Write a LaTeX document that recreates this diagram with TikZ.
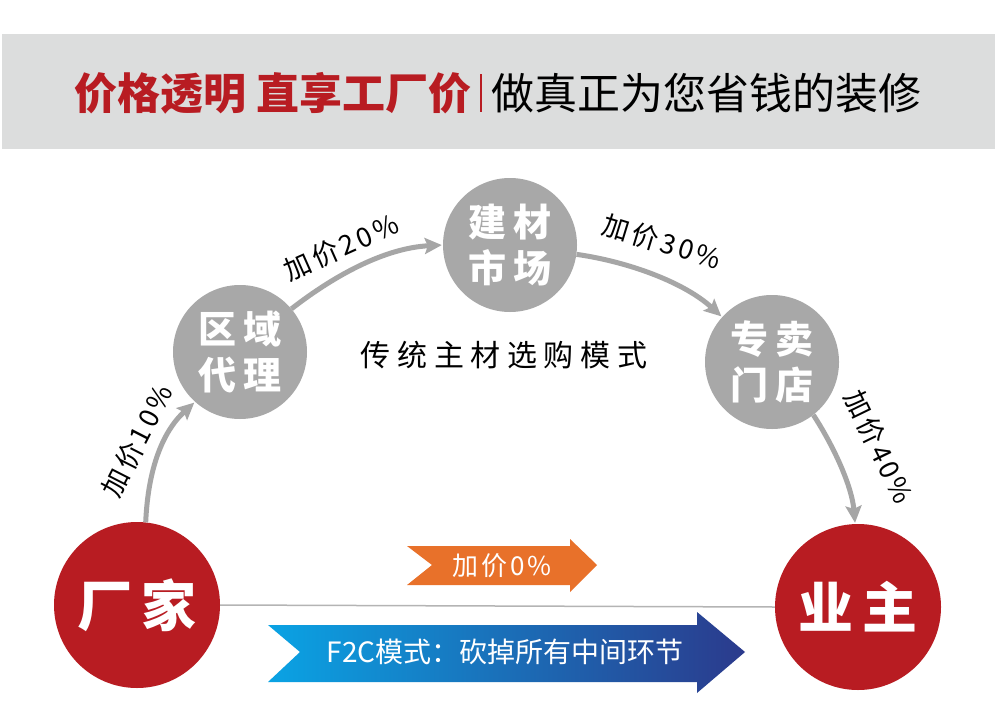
\documentclass[tikz,border=0pt]{standalone}
\usepackage{fontspec}
\setmainfont{Noto Sans CJK SC}
\newfontfamily\cjkwide[LetterSpace=22]{Noto Sans CJK SC}
\newfontfamily\cjklab[LetterSpace=12]{Noto Sans CJK SC}
\newfontfamily\cjkcirc[LetterSpace=18]{Noto Sans CJK SC}
\usetikzlibrary{arrows.meta}
\definecolor{bandgray}{HTML}{DCDDDD}
\definecolor{hred}{HTML}{B81C22}
\definecolor{cgray}{HTML}{A8A8A8}
\definecolor{agray}{HTML}{A6A6A6}
\definecolor{lgray}{HTML}{B4B4B4}
\definecolor{oarrow}{HTML}{E8712A}
\definecolor{bleft}{HTML}{0AA3E4}
\definecolor{bright}{HTML}{2B3A8C}
\begin{document}
\begin{tikzpicture}[x=1pt,y=-1pt,
  graycirc/.style={circle,fill=cgray,minimum size=134pt,inner sep=0pt,text=white,
    font=\cjkcirc\bfseries\fontsize{38}{46}\selectfont,align=center},
  redcirc/.style={circle,fill=hred,minimum size=166pt,inner sep=0pt,text=white,
    font=\cjkcirc\bfseries\fontsize{55}{60}\selectfont},
  flow/.style={draw=agray,line width=5pt,-{Stealth[length=17pt,width=16pt,inset=3pt]},shorten >=1pt},
  pct/.style={font=\cjklab\fontsize{27}{30}\selectfont,text=black,inner sep=0pt}]
\useasboundingbox (0,0) rectangle (1000,725);
\fill[white] (0,0) rectangle (1000,725);
\fill[bandgray] (2,34) rectangle (995,149);
% header
\node[anchor=east,text=hred,font=\bfseries\fontsize{43}{46}\selectfont,inner sep=0pt] (t1) at (472,93) {价格透明 直享工厂价};
\node[anchor=west,text=black,font=\fontsize{43}{46}\selectfont,inner sep=0pt] (t2) at (491,93) {做真正为您省钱的装修};
\coordinate (bart) at (481,74);
\coordinate (barb) at (481,112);
\draw[hred,line width=2pt] (bart) -- (barb);
% circles
\node[redcirc] (fac) at (137,605) {厂家};
\node[redcirc] (own) at (858,607) {业主};
\node[graycirc] (reg) at (240,352) {区域\\代理};
\node[graycirc] (mkt) at (510,245) {建材\\市场};
\node[graycirc] (sto) at (772,362) {专卖\\门店};
% baseline
\draw[lgray,line width=1.5pt] (fac.east) -- (own.west);
% flow arrows
\draw[flow] (fac.84) .. controls (148,470) and (162,432) .. (reg.228);
\draw[flow] (reg.40) .. controls (335,275) and (385,248) .. (mkt.180);
\draw[flow] (mkt.-8) .. controls (630,262) and (685,283) .. (sto.138);
\draw[flow] (sto.-52) .. controls (836,450) and (852,488) .. (own.92);
% labels
\node[pct,rotate=63] (p10) at (137,441) {加价10\%};
\node[pct,rotate=24] (p20) at (341,247) {加价20\%};
\node[pct,rotate=-17] (p30) at (662,242) {加价30\%};
\node[pct,rotate=-64] (p40) at (879,447) {加价40\%};
\node[font=\cjkwide\fontsize{30}{33}\selectfont,inner sep=0pt] (mode) at (504,355) {传统主材选购模式};
% orange arrow
\fill[oarrow] (407,546) -- (432,565) -- (407,585) -- (570,585) -- (570,592) -- (597,565) -- (570,539) -- (570,546) -- cycle;
\node[text=white,font=\cjklab\fontsize{26}{30}\selectfont,inner sep=0pt] (zero) at (502,566) {加价0\%};
% blue arrow
\shade[left color=bleft,right color=bright] (268,625) -- (300,652) -- (268,682) -- (697,682) -- (697,693) -- (745,652) -- (697,612) -- (697,625) -- cycle;
\node[text=white,font=\fontsize{28}{30}\selectfont,inner sep=0pt] (f2c) at (505,652) {F2C模式：砍掉所有中间环节};
\end{tikzpicture}
\end{document}
